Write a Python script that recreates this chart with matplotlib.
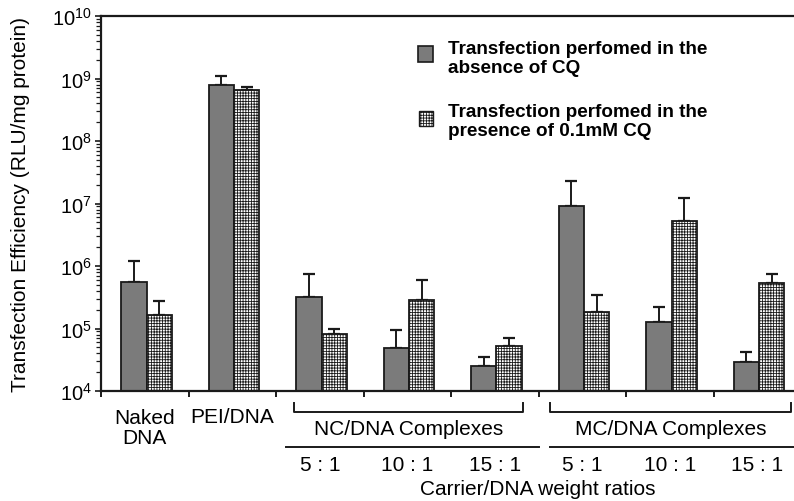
import numpy as np
import matplotlib.pyplot as plt
from matplotlib.patches import Rectangle
from matplotlib.lines import Line2D

plt.rcParams['font.family'] = ['Liberation Sans', 'DejaVu Sans']
plt.rcParams['mathtext.default'] = 'regular'
plt.rcParams['hatch.linewidth'] = 0.6

groups = ["Naked\nDNA", "PEI/DNA", "5 : 1", "10 : 1", "15 : 1", "5 : 1", "10 : 1", "15 : 1"]
no_cq = [5.5e5, 7.9e8, 3.2e5, 4.9e4, 2.5e4, 9.1e6, 1.27e5, 2.9e4]
no_cq_top = [1.2e6, 1.1e9, 7.4e5, 9.5e4, 3.5e4, 2.3e7, 2.2e5, 4.2e4]
with_cq = [1.65e5, 6.5e8, 8.2e4, 2.86e5, 5.2e4, 1.84e5, 5.2e6, 5.3e5]
with_cq_top = [2.8e5, 7.3e8, 9.8e4, 6.0e5, 7.0e4, 3.4e5, 1.22e7, 7.4e5]

W, H = 794, 502
fig = plt.figure(figsize=(W / 100, H / 100), dpi=100)
ax = fig.add_axes([101 / W, 110 / H, 700 / W, 375 / H])

x = np.arange(len(groups))
bw = 0.29
gray = '#7b7b7b'
ink = '#1a1a1a'

ax.bar(x - bw / 2 + 0.02, no_cq, bw, color=gray, edgecolor=ink, linewidth=1.3, zorder=2)
ax.bar(x + bw / 2 + 0.02, with_cq, bw, color='white', edgecolor=ink, linewidth=1.3,
       hatch='++++++', zorder=2)

# upper error bars only
lo = np.zeros(len(x))
ax.errorbar(x - bw / 2 + 0.02, no_cq, yerr=[lo, np.array(no_cq_top) - np.array(no_cq)],
            fmt='none', ecolor=ink, elinewidth=1.4, capsize=4, capthick=1.6, zorder=1)
ax.errorbar(x + bw / 2 + 0.02, with_cq, yerr=[lo, np.array(with_cq_top) - np.array(with_cq)],
            fmt='none', ecolor=ink, elinewidth=1.4, capsize=4, capthick=1.6, zorder=1)

ax.set_yscale('log')
ax.set_ylim(1e4, 1e10)
ax.set_xlim(-0.5, len(groups) - 0.5)
ax.set_yticks([10.0 ** k for k in range(4, 11)])
ax.set_xticks(np.arange(-0.5, len(groups) - 0.5, 1.0))
ax.set_xticklabels([])
ax.tick_params(axis='y', which='major', length=4.5, width=1.2, labelsize=14.5, pad=2, color=ink)
ax.tick_params(axis='y', which='minor', length=3.5, width=0.9, color=ink)
ax.tick_params(axis='x', length=4, width=1.4, color=ink)
for side in ('left', 'bottom', 'top'):
    ax.spines[side].set_linewidth(1.6)
    ax.spines[side].set_color(ink)
ax.spines['right'].set_visible(False)

ax.set_ylabel("Transfection Efficiency (RLU/mg protein)", fontsize=15)
ax.yaxis.set_label_coords(-0.102, 0.5)

# category labels and brackets under the axis
tr = ax.get_xaxis_transform()
fs = 15
ax.text(0, -0.098, groups[0], transform=tr, ha='center', va='center', fontsize=fs, linespacing=1.05)
ax.text(1, -0.069, groups[1], transform=tr, ha='center', va='center', fontsize=fs)
for xi in range(2, 8):
    ax.text(xi, -0.195, groups[xi], transform=tr, ha='center', va='center', fontsize=fs)

for x0, x1, name in [(1.70, 4.32, "NC/DNA Complexes"), (4.63, 7.39, "MC/DNA Complexes")]:
    ax.add_line(Line2D([x0, x0, x1, x1], [-0.032, -0.056, -0.056, -0.032], transform=tr,
                       color=ink, lw=1.4, clip_on=False))
    ax.text((x0 + x1) / 2, -0.101, name, transform=tr, ha='center', va='center', fontsize=fs)
ax.add_line(Line2D([1.61, 4.51], [-0.149, -0.149], transform=tr, color=ink, lw=1.4, clip_on=False))
ax.add_line(Line2D([4.63, 7.6], [-0.149, -0.149], transform=tr, color=ink, lw=1.4, clip_on=False))
ax.text(4.49, -0.261, "Carrier/DNA weight ratios", transform=tr, ha='center', va='center', fontsize=fs)

# legend
fig.patches.append(Rectangle((418 / W, 1 - 63 / H), 15 / W, 16 / H, transform=fig.transFigure,
                             facecolor=gray, edgecolor=ink, lw=1.2))
fig.patches.append(Rectangle((419 / W, 1 - 127 / H), 14 / W, 15 / H, transform=fig.transFigure,
                             facecolor='white', edgecolor=ink, lw=1.0, hatch='++++++'))
fig.text(448 / W, 1 - 59 / H, "Transfection perfomed in the\nabsence of CQ", ha='left', va='center',
         fontsize=13.6, fontweight='bold', linespacing=1.15)
fig.text(448 / W, 1 - 122 / H, "Transfection perfomed in the\npresence of 0.1mM CQ", ha='left', va='center',
         fontsize=13.6, fontweight='bold', linespacing=1.15)

fig.savefig('out.png', dpi=100)
